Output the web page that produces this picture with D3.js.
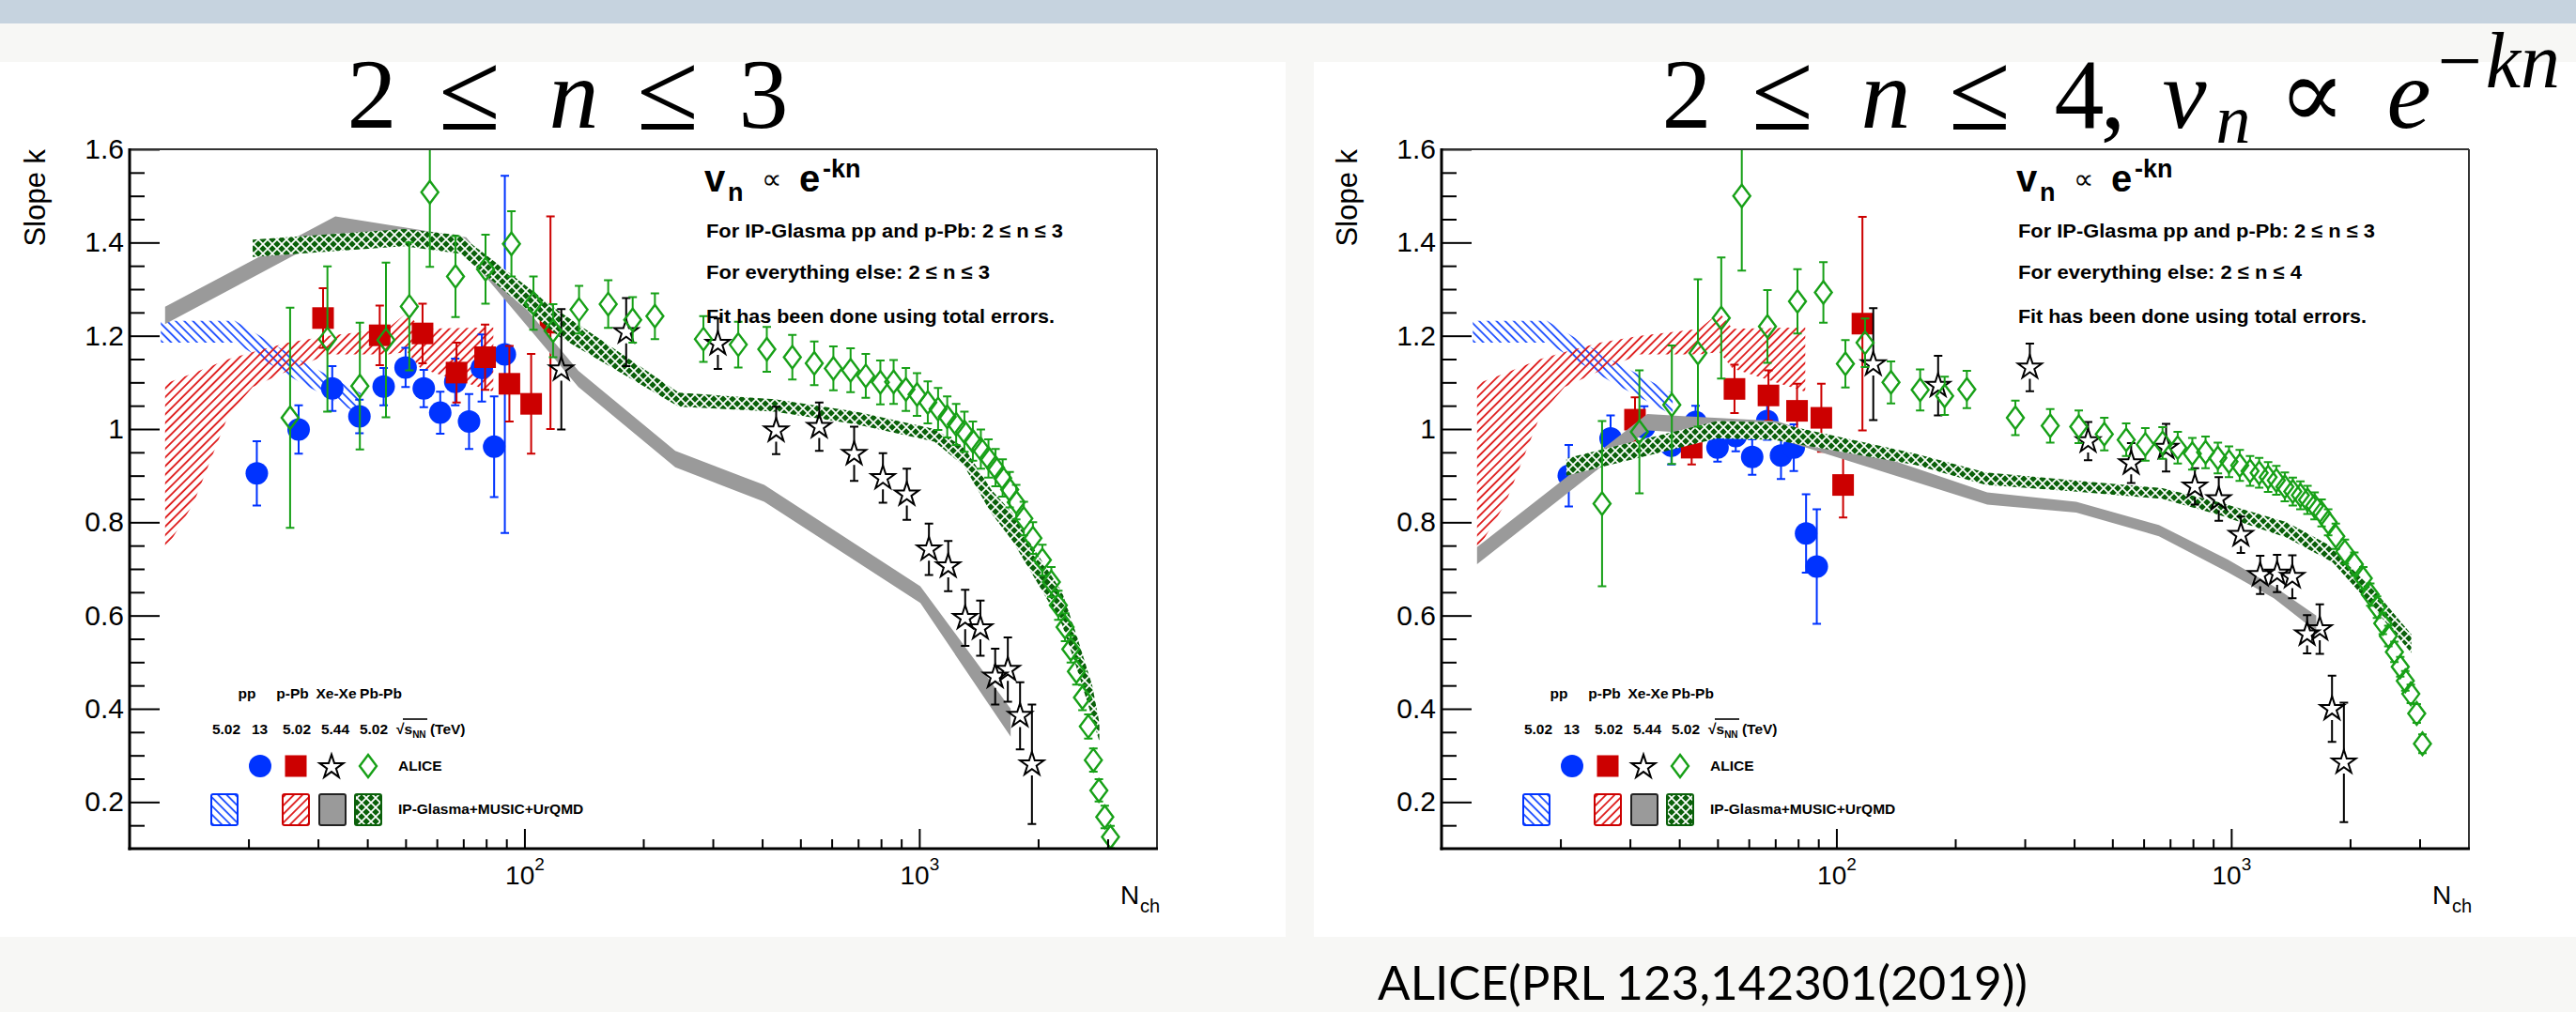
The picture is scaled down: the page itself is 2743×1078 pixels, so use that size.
<!DOCTYPE html>
<html>
<head>
<meta charset="utf-8">
<script src="https://cdn.jsdelivr.net/npm/d3@7"></script>
<style>
	body { margin: 0; background: #f7f7f5; }
	svg { display: block; }
</style>
</head>
<body>
<svg id="slide" width="2743" height="1078"></svg>
<script>
// ALICE points. "3" = fit 2<=n<=3 (left), "4" = fit 2<=n<=4 (right)
let ppN  = [21.0, 26.8, 32.6, 38.2, 44.0, 50.0, 55.6, 61.2, 66.8, 72.4, 78.0, 83.8, 89.2];
let ppK3 = [0.905, 0.999, 1.087, 1.027, 1.091, 1.132, 1.087, 1.035, 1.101, 1.016, 1.131, 0.962, 1.160];
let ppE3 = [0.069, 0.052, 0.048, 0.036, 0.040, 0.042, 0.040, 0.045, 0.050, 0.059, 0.072, 0.108, 0.383];
let ppK4 = [0.900, 0.980, 1.004, 0.964, 1.015, 0.960, 0.985, 0.940, 1.017, 0.943, 0.960, 0.776, 0.705];
let ppE4 = [0.066, 0.049, 0.045, 0.040, 0.035, 0.030, 0.033, 0.038, 0.040, 0.050, 0.050, 0.084, 0.123];

let pPbN  = [30.9, 43.0, 55.2, 67.3, 79.5, 91.6, 104.0, 116.4];
let pPbK3 = [1.238, 1.201, 1.205, 1.121, 1.154, 1.097, 1.054, 1.228];
let pPbE3 = [0.064, 0.064, 0.064, 0.064, 0.070, 0.081, 0.107, 0.228];
let pPbK4 = [1.020, 0.960, 1.086, 1.072, 1.039, 1.024, 0.880, 1.226];
let pPbE4 = [0.048, 0.036, 0.052, 0.054, 0.058, 0.073, 0.070, 0.229];

let xeN  = [124, 181, 309, 434, 558, 684, 809, 930, 1058, 1184, 1307, 1428, 1557, 1676, 1800, 1929];
let xeK3 = [1.128, 1.208, 1.183, 0.997, 1.005, 0.947, 0.895, 0.860, 0.742, 0.706, 0.595, 0.573, 0.469, 0.484, 0.385, 0.281];
let xeE3 = [0.129, 0.073, 0.054, 0.051, 0.052, 0.058, 0.053, 0.055, 0.055, 0.054, 0.060, 0.059, 0.060, 0.069, 0.072, 0.128];
let xeK4 = [1.139, 1.093, 1.132, 0.974, 0.927, 0.960, 0.877, 0.850, 0.773, 0.687, 0.690, 0.683, 0.560, 0.571, 0.400, 0.285];
let xeE4 = [0.120, 0.064, 0.051, 0.041, 0.043, 0.051, 0.039, 0.047, 0.039, 0.041, 0.040, 0.046, 0.041, 0.053, 0.071, 0.128];

let pbN = [25.5, 31.7, 38.3, 44.6, 51.1, 57.6, 66.9, 79.7, 92.7, 105.4,
	118.2, 137.5, 163, 188, 214, 284, 348, 411, 477, 542,
	606, 670, 732, 797, 861, 925, 987, 1051, 1116, 1177,
	1240, 1301, 1367, 1432, 1497, 1560, 1626, 1694, 1760, 1840,
	1940, 2050, 2160, 2250, 2340, 2420, 2500, 2590, 2680, 2760,
	2850, 2950, 3050];
let pbK3 = [1.024, 1.193, 1.092, 1.191, 1.263, 1.508, 1.327, 1.343, 1.397, 1.270,
	1.211, 1.256, 1.268, 1.234, 1.242, 1.193, 1.181, 1.171, 1.154, 1.141,
	1.130, 1.126, 1.114, 1.100, 1.101, 1.085, 1.074, 1.057, 1.043, 1.026,
	1.010, 0.994, 0.974, 0.957, 0.937, 0.917, 0.895, 0.870, 0.843, 0.808,
	0.766, 0.719, 0.672, 0.622, 0.575, 0.528, 0.480, 0.424, 0.362, 0.290,
	0.225, 0.168, 0.125];
let pbE3 = [0.236, 0.156, 0.136, 0.166, 0.137, 0.160, 0.087, 0.074, 0.070, 0.057,
	0.057, 0.051, 0.051, 0.049, 0.049, 0.049, 0.049, 0.048, 0.048, 0.047,
	0.047, 0.047, 0.047, 0.047, 0.047, 0.046, 0.046, 0.045, 0.045, 0.044,
	0.044, 0.043, 0.042, 0.042, 0.041, 0.040, 0.040, 0.038, 0.037, 0.036,
	0.034, 0.033, 0.032, 0.031, 0.030, 0.029, 0.028, 0.027, 0.026, 0.025,
	0.024, 0.024, 0.024];
let pbK4 = [0.840, 0.994, 1.052, 1.163, 1.238, 1.500, 1.220, 1.274, 1.293, 1.140,
	1.185, 1.100, 1.084, 1.071, 1.085, 1.024, 1.007, 1.005, 0.989, 0.977,
	0.967, 0.970, 0.960, 0.947, 0.950, 0.938, 0.930, 0.922, 0.910, 0.906,
	0.897, 0.890, 0.876, 0.866, 0.858, 0.848, 0.835, 0.820, 0.800, 0.770,
	0.737, 0.710, 0.680, 0.645, 0.618, 0.583, 0.556, 0.522, 0.490, 0.460,
	0.432, 0.390, 0.325];
let pbE4 = [0.177, 0.132, 0.127, 0.158, 0.130, 0.160, 0.078, 0.069, 0.065, 0.051,
	0.052, 0.045, 0.044, 0.041, 0.040, 0.037, 0.036, 0.035, 0.035, 0.035,
	0.035, 0.034, 0.034, 0.034, 0.034, 0.033, 0.033, 0.033, 0.032, 0.032,
	0.032, 0.031, 0.031, 0.030, 0.030, 0.030, 0.029, 0.029, 0.028, 0.027,
	0.026, 0.025, 0.024, 0.024, 0.023, 0.023, 0.022, 0.022, 0.021, 0.021,
	0.020, 0.020, 0.020];

// IP-Glasma+MUSIC+UrQMD bands (N, low edge, high edge)
let ppBandN  = [12.0, 18.5, 27, 38.5];
let ppBandLo = [1.185, 1.185, 1.100, 1.030];
let ppBandHi = [1.232, 1.232, 1.148, 1.077];

let pPbBandN  = [12.3, 14.5, 17.8, 20.5, 25.2, 31.8, 45.0, 50.5, 54.6, 83.4];
let pPbBandLo = [0.740, 0.840, 1.030, 1.090, 1.125, 1.160, 1.160, 1.165, 1.130, 1.080];
let pPbBandHi = [1.097, 1.120, 1.150, 1.165, 1.185, 1.200, 1.215, 1.250, 1.215, 1.218];

let xeBandN3  = [12.3, 33.2, 71.2, 137, 241, 405, 1006, 1704];
let xeBandLo3 = [1.225, 1.420, 1.376, 1.090, 0.918, 0.844, 0.627, 0.340];
let xeBandHi3 = [1.262, 1.456, 1.411, 1.125, 0.953, 0.880, 0.663, 0.400];
let xeBandN4  = [12.3, 33.2, 70.7, 241, 405, 656, 980, 1282, 1642];
let xeBandLo4 = [0.710, 0.997, 0.980, 0.838, 0.821, 0.770, 0.693, 0.637, 0.566];
let xeBandHi4 = [0.747, 1.032, 1.017, 0.864, 0.844, 0.794, 0.720, 0.663, 0.600];

let pbBandN3  = [20.5, 49.6, 68.7, 122.5, 246, 430, 692, 1093, 1300, 1521, 1722, 1929, 2300, 2498, 2742, 2858];
let pbBandLo3 = [1.369, 1.392, 1.376, 1.198, 1.048, 1.037, 1.010, 0.973, 0.920, 0.820, 0.760, 0.690, 0.580, 0.490, 0.380, 0.330];
let pbBandHi3 = [1.406, 1.429, 1.416, 1.252, 1.078, 1.064, 1.037, 1.000, 0.960, 0.870, 0.820, 0.750, 0.650, 0.560, 0.450, 0.370];
let pbBandN4  = [20.7, 49.9, 69.3, 158.5, 239, 400, 670, 931, 1383, 1807, 2273, 2649, 2858];
let pbBandLo4 = [0.900, 0.980, 0.977, 0.923, 0.880, 0.866, 0.850, 0.816, 0.767, 0.714, 0.620, 0.553, 0.520];
let pbBandHi4 = [0.937, 1.017, 1.014, 0.947, 0.907, 0.890, 0.873, 0.843, 0.800, 0.747, 0.660, 0.593, 0.560];

let yMajor = [0.2, 0.4, 0.6, 0.8, 1, 1.2, 1.4, 1.6];
let xMajor = [100, 1000];
let systems = ["pp", "p-Pb", "Xe-Xe", "Pb-Pb"];
let energies = ["5.02", "13", "5.02", "5.44", "5.02"];

let blue = "#0033ff", red = "#cc0000", green = "#17a017", darkGreen = "#0a600a", gray = "#9a9a9a";
let sans = "'Liberation Sans', Arial, sans-serif";
let serif = "'Liberation Serif', 'DejaVu Serif', serif";
let diamond = "M0,-12L9,0L0,12L-9,0Z";
let star = d3.symbol().type(d3.symbolStar).size(200)();

let svg = d3.select("#slide");
let defs = svg.append("defs");

function hatch(id, color, angle) {
	defs.append("pattern")
		.attr("id", id)
		.attr("patternUnits", "userSpaceOnUse")
		.attr("width", 6.5).attr("height", 6.5)
		.attr("patternTransform", `rotate(${angle})`)
		.append("line")
			.attr("x1", 1).attr("y1", 0).attr("x2", 1).attr("y2", 6.5)
			.attr("stroke", color).attr("stroke-width", 1.8);
}
hatch("hatchBlue", "#1a4cff", -45);
hatch("hatchRed", "#dd1515", 45);

let pat = defs.append("pattern")
	.attr("id", "pbPat")
	.attr("patternUnits", "userSpaceOnUse")
	.attr("width", 10).attr("height", 10);
pat.append("rect").attr("width", 10).attr("height", 10).attr("fill", darkGreen);
pat.append("path").attr("d", "M0,0L10,10M10,0L0,10").attr("stroke", "#fff").attr("stroke-width", 1.7);

// slide background
svg.append("rect").attr("width", 2743).attr("height", 1078).attr("fill", "#f7f7f5");
svg.append("rect").attr("width", 2743).attr("height", 25).attr("fill", "#c6d3df");
svg.append("rect").attr("x", 0).attr("y", 66).attr("width", 1369).attr("height", 932).attr("fill", "#fff");
svg.append("rect").attr("x", 1399).attr("y", 66).attr("width", 1344).attr("height", 932).attr("fill", "#fff");

let zipBand = (n, lo, hi) => n.map((v, i) => ({n: v, lo: lo[i], hi: hi[i]}));
let zipPts = (n, k, e) => n.map((v, i) => ({n: v, k: k[i], e: e[i]}));

function errorBars(sel, pts, x, y, color, gap) {
	sel.append("g")
		.selectAll("path")
		.data(pts)
		.join("path")
			.attr("fill", "none")
			.attr("stroke", color)
			.attr("stroke-width", 2)
			.attr("d", d => {
				let cx = x(d.n), cy = y(d.k), yt = y(d.k + d.e), yb = y(d.k - d.e);
				let s = `M${cx - 4.5},${yt}H${cx + 4.5}M${cx - 4.5},${yb}H${cx + 4.5}`;
				if (cy - gap > yt) s += `M${cx},${yt}V${cy - gap}`;
				if (cy + gap < yb) s += `M${cx},${cy + gap}V${yb}`;
				return s;
			});
}

// one <text>, each piece placed with its own x/y
function richText(sel, parts, attrs) {
	let t = sel.append("text");
	Object.entries(attrs).forEach(([k, v]) => t.attr(k, v));
	parts.forEach(d => {
		t.append("tspan")
			.attr("x", d.x).attr("y", d.y)
			.attr("font-size", d.size || null)
			.attr("font-style", d.it ? "italic" : null)
			.attr("font-weight", d.w || null)
			.text(d.t);
	});
	return t;
}

function drawPanel(p) {
	let L = p.left, R = L + 1094, T = 159, B = 904;
	let x = d3.scaleLog().domain([10, 4000]).range([L, R]);
	let y = d3.scaleLinear().domain([0.1, 1.6]).range([B, T]);
	let g = svg.append("g");

	defs.append("clipPath").attr("id", "clip" + p.id)
		.append("rect").attr("x", L).attr("y", T).attr("width", R - L).attr("height", B - T);
	let plot = g.append("g").attr("clip-path", `url(#clip${p.id})`);

	let area = d3.area().x(d => x(d.n)).y0(d => y(d.lo)).y1(d => y(d.hi));

	plot.append("path").datum(zipBand(ppBandN, ppBandLo, ppBandHi)).attr("d", area).attr("fill", "url(#hatchBlue)");
	plot.append("path").datum(zipBand(pPbBandN, pPbBandLo, pPbBandHi)).attr("d", area).attr("fill", "url(#hatchRed)");

	let pp = zipPts(ppN, p.ppK, p.ppE);
	errorBars(plot, pp, x, y, blue, 0);
	plot.append("g").selectAll("circle")
		.data(pp)
		.join("circle")
			.attr("cx", d => x(d.n))
			.attr("cy", d => y(d.k))
			.attr("r", 12)
			.attr("fill", blue);

	let pPb = zipPts(pPbN, p.pPbK, p.pPbE);
	errorBars(plot, pPb, x, y, red, 0);
	plot.append("g").selectAll("rect")
		.data(pPb)
		.join("rect")
			.attr("x", d => x(d.n) - 11.5)
			.attr("y", d => y(d.k) - 11.5)
			.attr("width", 23).attr("height", 23)
			.attr("fill", red);

	plot.append("path").datum(p.xeBand).attr("d", area).attr("fill", gray);
	plot.append("path").datum(p.pbBand).attr("d", area).attr("fill", "url(#pbPat)");

	let xe = zipPts(xeN, p.xeK, p.xeE);
	errorBars(plot, xe, x, y, "#000", 12);
	plot.append("g").selectAll("path")
		.data(xe)
		.join("path")
			.attr("d", star)
			.attr("transform", d => `translate(${x(d.n)},${y(d.k)})`)
			.attr("fill", "none")
			.attr("stroke", "#000")
			.attr("stroke-width", 2);

	let pb = zipPts(pbN, p.pbK, p.pbE);
	errorBars(plot, pb, x, y, green, 12);
	plot.append("g").selectAll("path")
		.data(pb)
		.join("path")
			.attr("d", diamond)
			.attr("transform", d => `translate(${x(d.n)},${y(d.k)})`)
			.attr("fill", "none")
			.attr("stroke", green)
			.attr("stroke-width", 2.4);

	// axes, ROOT style ticks pointing inwards
	let yAx = g.append("g").attr("transform", `translate(${L},0)`)
		.call(d3.axisLeft(y).tickValues(yMajor).tickSizeInner(-32).tickSizeOuter(0).tickPadding(6)
			.tickFormat(d => d === 1 ? "1" : d3.format(".1f")(d)));
	g.append("g").attr("transform", `translate(${L},0)`)
		.call(d3.axisLeft(y).tickValues(d3.range(3, 32).filter(i => i % 4 !== 0).map(i => i * 0.05))
			.tickSizeInner(-16).tickSizeOuter(0).tickFormat(""));
	let xAx = g.append("g").attr("transform", `translate(0,${B})`)
		.call(d3.axisBottom(x).tickValues(xMajor).tickSizeInner(-21).tickSizeOuter(0));
	g.append("g").attr("transform", `translate(0,${B})`)
		.call(d3.axisBottom(x).tickValues(x.ticks().filter(t => t > 10 && t < 4000 && t !== 100 && t !== 1000))
			.tickSizeInner(-10).tickSizeOuter(0).tickFormat(""));
	g.selectAll(".domain").remove();
	g.selectAll(".tick line").attr("stroke", "#000").attr("stroke-width", 2);
	yAx.selectAll("text").attr("font-family", sans).attr("font-size", 30).attr("fill", "#000");
	xAx.selectAll("text")
		.attr("font-family", sans).attr("font-size", 28).attr("fill", "#000")
		.attr("y", 38).attr("dy", null)
		.text(null)
		.each(function(d) {
			let t = d3.select(this);
			t.append("tspan").text("10");
			t.append("tspan").attr("dy", -15).attr("font-size", 19).text(Math.round(Math.log10(d)));
		});

	g.append("line").attr("x1", L).attr("x2", R).attr("y1", T).attr("y2", T).attr("stroke", "#333").attr("stroke-width", 2);
	g.append("line").attr("x1", R).attr("x2", R).attr("y1", T).attr("y2", B).attr("stroke", "#333").attr("stroke-width", 2);
	g.append("line").attr("x1", L).attr("x2", L).attr("y1", T - 1).attr("y2", B + 1.5).attr("stroke", "#000").attr("stroke-width", 3);
	g.append("line").attr("x1", L - 1.5).attr("x2", R + 1).attr("y1", B).attr("y2", B).attr("stroke", "#000").attr("stroke-width", 3);

	g.append("text")
		.attr("transform", `translate(${L - 90},${T}) rotate(-90)`)
		.attr("text-anchor", "end")
		.attr("font-family", sans).attr("font-size", 31)
		.text("Slope k");
	richText(g, [{t: "N", x: R - 39, y: 963}, {t: "ch", x: R - 18, y: 972, size: 20}],
		{"font-family": sans, "font-size": 28});

	// fit formula and notes
	let tb = g.append("g").attr("font-family", sans).attr("font-weight", "bold");
	richText(tb, [
		{t: "v", x: L + 612, y: 204},
		{t: "n", x: L + 637, y: 214, size: 27},
		{t: "∝", x: L + 673, y: 201, size: 30, w: "normal"},
		{t: "e", x: L + 713, y: 204},
		{t: "-kn", x: L + 738, y: 189, size: 27}
	], {"font-size": 40});
	let noteY = [253, 297, 344], noteW = [380, 302, 371];
	p.notes.forEach((t, i) => {
		tb.append("text")
			.attr("x", L + 614).attr("y", noteY[i])
			.attr("font-size", 21)
			.attr("textLength", noteW[i]).attr("lengthAdjust", "spacingAndGlyphs")
			.text(t);
	});

	// legend
	let lg = g.append("g").attr("font-family", sans).attr("font-weight", "bold").attr("font-size", 15.5);
	[125, 173.5, 220, 267.5].forEach((dx, i) => {
		lg.append("text").attr("x", L + dx).attr("y", 744).attr("text-anchor", "middle").text(systems[i]);
	});
	[103, 138.5, 178, 219, 260].forEach((dx, i) => {
		lg.append("text").attr("x", L + dx).attr("y", 782).attr("text-anchor", "middle").text(energies[i]);
	});
	let sq = lg.append("text").attr("x", L + 284).attr("y", 782);
	sq.append("tspan").text("√");
	sq.append("tspan").text("s");
	sq.append("tspan").attr("font-size", 10).attr("dy", 4).text("NN");
	sq.append("tspan").attr("dy", -4).text(" (TeV)");
	lg.append("line").attr("x1", L + 291).attr("x2", L + 317).attr("y1", 766).attr("y2", 766).attr("stroke", "#000").attr("stroke-width", 1.6);

	lg.append("circle").attr("cx", L + 139).attr("cy", 816).attr("r", 12).attr("fill", blue);
	lg.append("rect").attr("x", L + 165.5).attr("y", 804.5).attr("width", 23).attr("height", 23).attr("fill", red);
	lg.append("path").attr("d", star).attr("transform", `translate(${L + 215},817)`).attr("fill", "none").attr("stroke", "#000").attr("stroke-width", 2);
	lg.append("path").attr("d", diamond).attr("transform", `translate(${L + 254},816)`).attr("fill", "none").attr("stroke", green).attr("stroke-width", 2.4);
	lg.append("text").attr("x", L + 286).attr("y", 821).text("ALICE");

	let boxes = [[87, "url(#hatchBlue)", blue], [163, "url(#hatchRed)", red], [202, gray, "#222"], [240, "url(#pbPat)", darkGreen]];
	boxes.forEach(([dx, fill, stroke]) => {
		lg.append("rect")
			.attr("x", L + dx).attr("y", 846).attr("width", 28).attr("height", 33).attr("rx", 2)
			.attr("fill", fill).attr("stroke", stroke).attr("stroke-width", 2);
	});
	lg.append("text").attr("x", L + 286).attr("y", 867).text("IP-Glasma+MUSIC+UrQMD");

	// slide title above the panel
	richText(svg, p.title.map(d => ({...d, y: d.y || 136})),
		{"font-family": serif, "font-size": 106, "text-anchor": "middle"});
}

drawPanel({
	id: "L", left: 138,
	ppK: ppK3, ppE: ppE3, pPbK: pPbK3, pPbE: pPbE3,
	xeK: xeK3, xeE: xeE3, pbK: pbK3, pbE: pbE3,
	xeBand: zipBand(xeBandN3, xeBandLo3, xeBandHi3),
	pbBand: zipBand(pbBandN3, pbBandLo3, pbBandHi3),
	notes: ["For IP-Glasma pp and p-Pb: 2 ≤ n ≤ 3", "For everything else: 2 ≤ n ≤ 3", "Fit has been done using total errors."],
	title: [{t: "2", x: 396}, {t: "≤", x: 500, size: 120, y: 138}, {t: "n", x: 611, it: true},
		{t: "≤", x: 711, size: 120, y: 138}, {t: "3", x: 813}]
});

drawPanel({
	id: "R", left: 1535,
	ppK: ppK4, ppE: ppE4, pPbK: pPbK4, pPbE: pPbE4,
	xeK: xeK4, xeE: xeE4, pbK: pbK4, pbE: pbE4,
	xeBand: zipBand(xeBandN4, xeBandLo4, xeBandHi4),
	pbBand: zipBand(pbBandN4, pbBandLo4, pbBandHi4),
	notes: ["For IP-Glasma pp and p-Pb: 2 ≤ n ≤ 3", "For everything else: 2 ≤ n ≤ 4", "Fit has been done using total errors."],
	title: [{t: "2", x: 1796}, {t: "≤", x: 1898, size: 120, y: 138}, {t: "n", x: 2008, it: true},
		{t: "≤", x: 2108, size: 120, y: 138}, {t: "4", x: 2214},
		{t: ",", x: 2250}, {t: "v", x: 2326, it: true}, {t: "n", x: 2378, y: 152, size: 74, it: true},
		{t: "∝", x: 2462}, {t: "e", x: 2565, it: true}, {t: "−kn", x: 2658, y: 93, size: 84, it: true}]
});

svg.append("text")
	.attr("x", 1467).attr("y", 1065)
	.attr("font-family", "Lato, 'Open Sans', sans-serif").attr("font-size", 51)
	.attr("textLength", 692).attr("lengthAdjust", "spacingAndGlyphs")
	.text("ALICE(PRL 123,142301(2019))");
</script>
</body>
</html>
